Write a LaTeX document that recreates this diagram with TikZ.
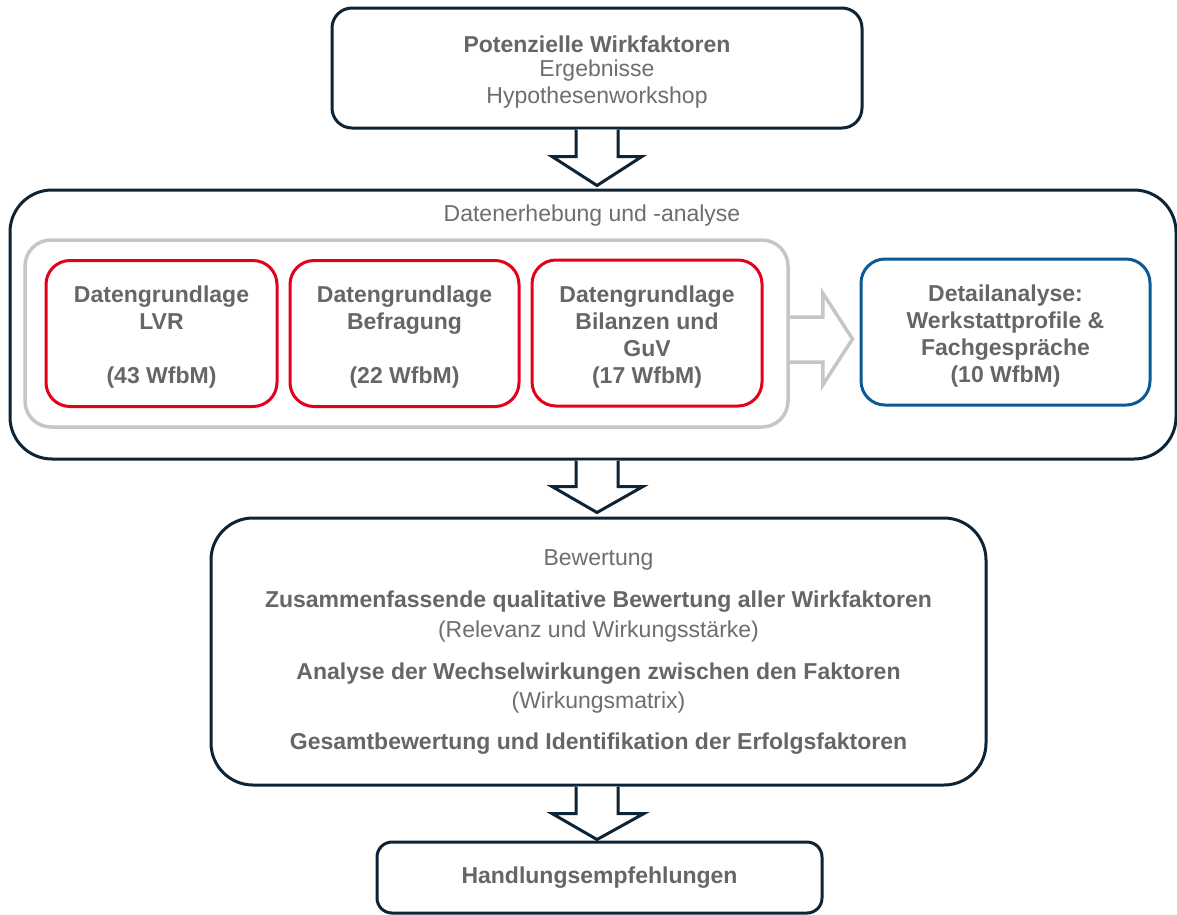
\documentclass[tikz,border=0pt]{standalone}
\usepackage{fontspec}
\setmainfont{Liberation Sans}
\usetikzlibrary{calc}
\definecolor{dark}{HTML}{0D2436}
\definecolor{wred}{HTML}{E2001A}
\definecolor{wblue}{HTML}{0A5A96}
\definecolor{lgray}{HTML}{C6C6C6}
\definecolor{tgray}{HTML}{666666}
\definecolor{rgray}{HTML}{6E6E6E}
\tikzset{
  darkbox/.style={draw=dark, line width=3pt, fill=white, inner sep=0pt},
  redbox/.style={draw=wred, line width=3pt, rounded corners=24pt, minimum height=146pt, inner sep=0pt},
  bluebox/.style={draw=wblue, line width=3pt, rounded corners=24pt, minimum height=146pt, inner sep=0pt},
  graybox/.style={draw=lgray, line width=3.5pt, rounded corners=26pt, inner sep=0pt},
  btxt/.style={text=tgray, font=\fontsize{23}{27}\selectfont\bfseries, align=center, inner sep=0pt},
  rtxt/.style={text=rgray, font=\fontsize{23}{27}\selectfont, align=center, inner sep=0pt},
  blockarrow/.style={draw=dark, line width=3pt, fill=white, line join=miter},
  grayarrow/.style={draw=lgray, line width=3.5pt, fill=white, line join=miter},
}
\begin{document}
\begin{tikzpicture}[x=1pt,y=-1pt]
\useasboundingbox (0,0) rectangle (1177,914);
% top box
\node[darkbox, rounded corners=20pt, minimum width=530pt, minimum height=120pt] (top) at (597,68) {};
\node[btxt] (toptitle) at (597,44) {Potenzielle Wirkfaktoren};
\node[rtxt, anchor=north] (topsub) at (597,60) {Ergebnisse\\Hypothesenworkshop};
% middle big box
\node[darkbox, rounded corners=42pt, minimum width=1166pt, minimum height=269pt] (mid) at (593,324.5) {};
\node[rtxt] (midlabel) at (592,216) {Datenerhebung und -analyse};
\node[graybox, minimum width=763pt, minimum height=187pt] (gray) at (406.5,333.5) {};
\node[redbox, minimum width=231pt] (r1) at (161.5,333.5) {};
\node[redbox, minimum width=229pt] (r2) at (404.5,333.5) {};
\node[redbox, minimum width=230pt] (r3) at (647,333) {};
\node[bluebox, minimum width=289pt] (blue) at (1005.5,332) {};
\node[btxt] (r1t) at ($(r1)+(0,4)$) {Datengrundlage\\LVR\\[27pt](43 WfbM)};
\node[btxt] (r2t) at ($(r2)+(0,4)$) {Datengrundlage\\Befragung\\[27pt](22 WfbM)};
\node[btxt] (r3t) at ($(r3)+(0,4)$) {Datengrundlage\\Bilanzen und\\GuV\\(17 WfbM)};
\node[btxt] (bluet) at ($(blue)+(0,4)$) {Detailanalyse:\\Werkstattprofile \&\\Fachgespräche\\(10 WfbM)};
% gray arrow
\draw[grayarrow] ($(gray.east)+(0,-16.5)$) -- ++(33,0) -- ++(0,-24) -- ($(blue.west)+(-7,7)$) -- ($(gray.east)+(33,51.5)$) -- ++(0,-23) -- ++(-33,0);
% Bewertung box
\node[darkbox, rounded corners=42pt, minimum width=775pt, minimum height=267pt] (bew) at (598.5,651.5) {};
\node[rtxt] (bewlabel) at (598.5,560) {Bewertung};
\node[btxt] (b1) at (598.5,602) {Zusammenfassende qualitative Bewertung aller Wirkfaktoren};
\node[rtxt] (b1s) at (598.5,632) {(Relevanz und Wirkungsstärke)};
\node[btxt] (b2) at (598.5,674) {Analyse der Wechselwirkungen zwischen den Faktoren};
\node[rtxt] (b2s) at (598.5,703) {(Wirkungsmatrix)};
\node[btxt] (b3) at (598.5,744) {Gesamtbewertung und Identifikation der Erfolgsfaktoren};
% bottom box
\node[darkbox, rounded corners=15pt, minimum width=445pt, minimum height=71pt, btxt] (hand) at (599.5,877.5) {Handlungsempfehlungen};
% block arrows
\draw[blockarrow] ($(top.south)+(-21,0)$) -- ++(0,27) -- ++(-24,0) -- ($(top.south |- mid.north)+(0,-3)$) -- ($(top.south)+(45,27)$) -- ++(-24,0) -- ++(0,-27);
\draw[blockarrow] ($(mid.south -| top.south)+(-21,0)$) -- ++(0,26) -- ++(-24,0) -- ($(top.south |- bew.north)+(0,-4)$) -- ($(mid.south -| top.south)+(46,26)$) -- ++(-25,0) -- ++(0,-26);
\draw[blockarrow] ($(bew.south -| top.south)+(-21,0)$) -- ++(0,27) -- ++(-24,0) -- ($(top.south |- hand.north)+(0,-1)$) -- ($(bew.south -| top.south)+(47,27)$) -- ++(-26,0) -- ++(0,-27);
\end{tikzpicture}
\end{document}
